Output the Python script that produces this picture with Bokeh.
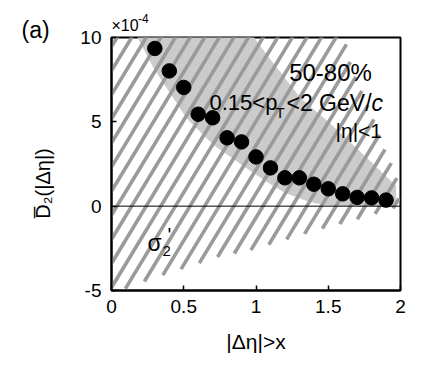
import numpy as np
from bokeh.plotting import figure
from bokeh.models import Span, Label, FixedTicker, ColumnDataSource
from bokeh.embed import file_html
from bokeh.resources import INLINE

# ---------------- data ----------------
eta_x = [0.3, 0.4, 0.5, 0.6, 0.7, 0.8, 0.9, 1.0, 1.1, 1.2, 1.3, 1.4, 1.5, 1.6, 1.7, 1.8, 1.9]
d2_vals = [9.35, 8.02, 7.04, 5.45, 5.24, 4.05, 3.81, 2.92, 2.27, 1.68, 1.68, 1.30, 1.03, 0.73, 0.52, 0.49, 0.36]

# grey systematic band (lower / upper edges)
band_lo_x = [0.14, 0.18, 0.29, 0.52, 0.71, 0.96, 1.10, 1.20, 1.35, 1.47, 1.97]
band_lo = [11.0, 10.0, 8.2, 5.2, 3.6, 2.1, 1.3, 0.8, 0.3, 0.05, -0.05]
band_hi_x = [0.14, 0.90, 0.96, 1.10, 1.31, 1.50, 1.75, 1.97]
band_hi = [11.0, 11.0, 10.3, 8.7, 6.4, 5.0, 3.0, 1.2]

# hatched sigma_2' band (lower / upper edges)
hatch_lo_x = [0.0, 0.28, 0.74, 0.97, 1.20, 1.43, 1.68, 1.91, 1.99]
hatch_lo = [-5.2, -4.3, -3.0, -2.6, -2.0, -1.4, -0.83, -0.24, -0.02]
hatch_hi_x = [0.0, 1.55, 1.60, 1.66, 1.81, 1.88, 1.94, 1.99]
hatch_hi = [14.0, 12.0, 10.6, 8.3, 5.3, 3.6, 2.5, 1.3]
hatch_x_end = 1.99

x_ticks = [0, 0.5, 1, 1.5, 2]
x_tick_labels = ["0", "0.5", "1", "1.5", "2"]
y_ticks = [-5, 0, 5, 10]
y_tick_labels = ["-5", "0", "5", "10"]

# ---------------- layout constants ----------------
W, H = 430, 358
FL, FT, FW, FH = 111, 37, 289, 253          # frame position / size in figure px
XR = (0.0, 2.0)
YR = (-5.0, 10.0)
SX = FW / (XR[1] - XR[0])
SY = FH / (YR[1] - YR[0])
FONT = "Liberation Sans"
PAD = "\u00a0\u200b"   # no-break space kept apart by zero-width spaces


def X(px):  # reference px -> data x
    return XR[0] + (px - FL) / SX


def Y(py):  # reference py -> data y
    return YR[1] - (py - FT) / SY


p = figure(width=W, height=H, x_range=XR, y_range=YR,
           output_backend="svg", toolbar_location=None,
           min_border_left=FL, min_border_right=W - FL - FW,
           min_border_top=FT, min_border_bottom=H - FT - FH)
p.grid.visible = False
p.background_fill_color = "white"
p.border_fill_color = "white"
p.outline_line_color = "black"
p.outline_line_width = 2
p.outline_line_alpha = 1.0

# grey band
bx = band_lo_x + band_hi_x[::-1]
by = band_lo + band_hi[::-1]
p.patch(bx, by, fill_color="#cbcbcb", line_color=None)

# hatch stripes (steep diagonal lines clipped to the sigma_2' band)
slope = 1.65     # px up per px right
gap = 14.6       # horizontal px between stripes
phase = 5.5      # px from x=0 where a stripe crosses y=0
ys = np.linspace(-6, 13, 4001)
seg_x, seg_y = [], []
for k in range(-60, 60):
    x0 = (phase + k * gap) / SX
    xl = x0 + ys * SY / (slope * SX)
    lo = np.interp(xl, hatch_lo_x, hatch_lo)
    hi = np.interp(xl, hatch_hi_x, hatch_hi)
    inside = (xl >= -0.3) & (xl <= hatch_x_end) & (ys >= lo) & (ys <= hi)
    if not inside.any():
        continue
    idx = np.where(inside)[0]
    splits = np.where(np.diff(idx) > 1)[0]
    starts = np.concatenate([[idx[0]], idx[splits + 1]])
    ends = np.concatenate([idx[splits], [idx[-1]]])
    for s, e in zip(starts, ends):
        seg_x.append([float(xl[s]), float(xl[e])])
        seg_y.append([float(ys[s]), float(ys[e])])
p.multi_line(seg_x, seg_y, line_color="#9a9a9a", line_width=3.6, line_cap="butt")

# zero line
p.add_layout(Span(location=0, dimension="width", line_color="black", line_width=1))

# data points
src = ColumnDataSource(dict(x=eta_x, y=d2_vals))
p.scatter("x", "y", source=src, size=14.5, fill_color="black", line_color="black")

# axes
for ax in (p.xaxis[0], p.yaxis[0]):
    ax.major_tick_in = 5
    ax.major_tick_out = 0
    ax.minor_tick_line_color = None
    ax.axis_line_width = 2
    ax.axis_line_color = "black"
    ax.major_tick_line_width = 1.5
    ax.major_tick_line_color = "black"
    ax.major_label_text_font = FONT
    ax.major_label_text_font_size = "19px"
    ax.major_label_text_color = "black"
    ax.axis_label_text_font = FONT
    ax.axis_label_text_font_size = "21px"
    ax.axis_label_text_font_style = "normal"
    ax.axis_label_text_color = "black"

p.xaxis.ticker = FixedTicker(ticks=x_ticks)
p.xaxis.major_label_overrides = {t: l for t, l in zip(x_ticks, x_tick_labels)}
p.yaxis.ticker = FixedTicker(ticks=y_ticks)
p.yaxis.major_label_overrides = {t: l for t, l in zip(y_ticks, y_tick_labels)}
p.xaxis.major_label_standoff = 9
p.yaxis.major_label_standoff = 10
p.xaxis.axis_label = "|\u0394\u03b7|>x"
p.xaxis.axis_label_standoff = 14
# trailing padding shifts the rotated label down to the reference position
p.yaxis.axis_label = "D\u0305\u2082(|\u0394\u03b7|)" + PAD * 7
p.yaxis.axis_label_text_font_size = "20px"
p.yaxis.axis_label_standoff = 23


def lab(text, px, py, size, align="left", style="normal"):
    p.add_layout(Label(x=X(px), y=Y(py), text=text, text_font=FONT,
                       text_font_size=f"{size}px", text_font_style=style,
                       text_align=align, text_baseline="alphabetic",
                       text_color="black"))


def side_lab(text, x, y, size, place):
    # label living in a side panel (screen units from the panel's lower-left)
    p.add_layout(Label(x=x, y=y, x_units="screen", y_units="screen",
                       text=text, text_font=FONT, text_font_size=f"{size}px",
                       text_align="left", text_baseline="alphabetic",
                       text_color="black"), place)


# exponent above the frame: "x10" panel sits on the frame top, "-4" panel above it
side_lab("\u00d710", 111 - FL, 12, 16, "above")
side_lab("-4", 137.5 - FL, 2.5, 12, "above")
# panel letter in the left panel (outside the y axis)
side_lab("(a)", 20, (FT + FH) - 40.5 + 11, 23, "left")

lab("50-80%", 330, 72, 24, align="center")
lab("0.15<p", 209, 102, 22)
lab("T", 275, 112, 15)
lab("<2 GeV/", 286, 102, 23)
lab("c", 371, 102, 23, style="italic")
lab("|\u03b7|<1", 335, 130, 21)
lab("\u03c3", 147, 242, 23)
lab("2", 162, 250.5, 15)
lab("'", 167, 234, 20)

open("out.html", "w").write(file_html(p, INLINE))
